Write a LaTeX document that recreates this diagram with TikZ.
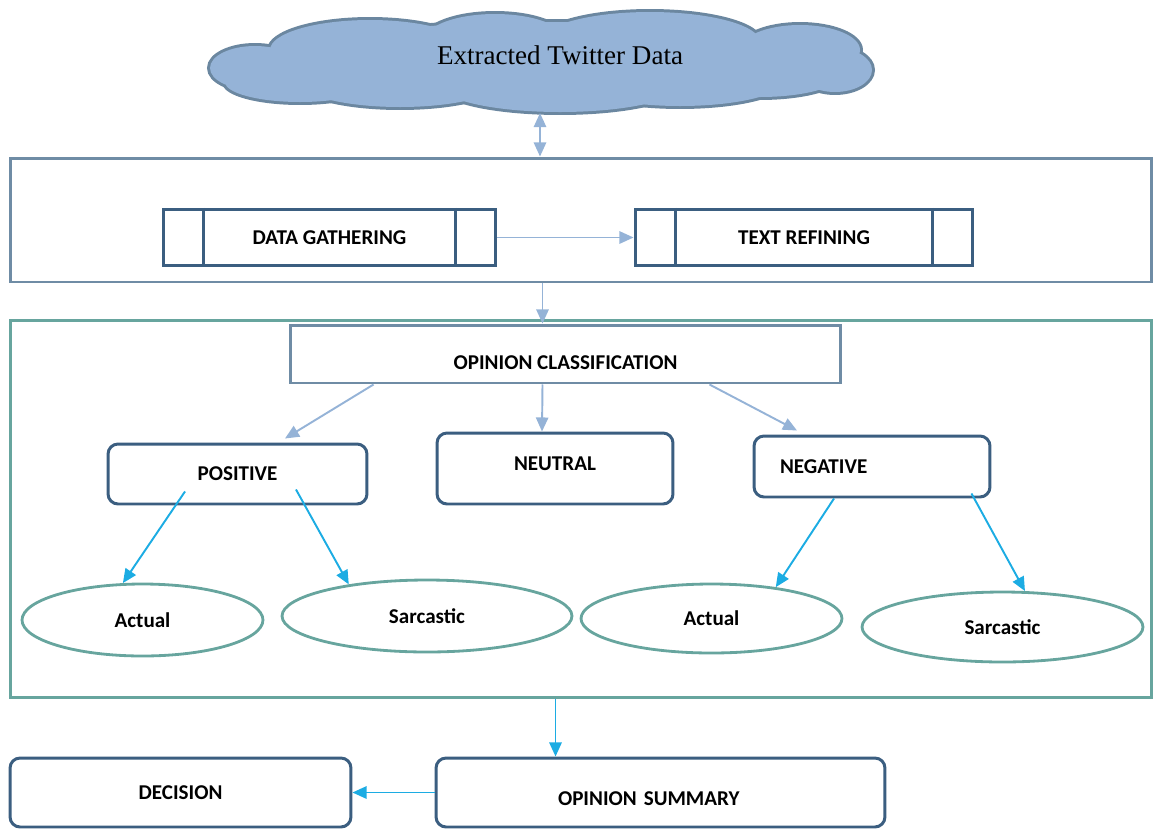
\documentclass[tikz,border=0pt]{standalone}
\usepackage{fontspec}
\setmainfont{Liberation Serif}
\setsansfont{Carlito}
\usetikzlibrary{arrows.meta,shapes.geometric}

\definecolor{cloudfill}{HTML}{95B3D7}
\definecolor{cloudline}{HTML}{6B87A0}
\definecolor{frameblue}{HTML}{6F8CA5}
\definecolor{boxblue}{HTML}{3B5E80}
\definecolor{frameteal}{HTML}{67A59E}
\definecolor{paleblue}{HTML}{95B3D7}
\definecolor{skyblue}{HTML}{1CACE3}

\begin{document}
\begin{tikzpicture}[x=0.02cm, y=-0.02cm,
    lbl/.style={font=\sffamily\bfseries\fontsize{12}{14}\selectfont},
    frame/.style={draw=#1, line width=1.7pt, inner sep=0pt},
    procbox/.style={lbl, draw=boxblue, line width=1.7pt, inner sep=0pt, minimum height=1.13cm},
    classbox/.style={lbl, draw=boxblue, line width=1.7pt, rounded corners=0.2cm, inner sep=0pt},
    leaf/.style={lbl, ellipse, draw=frameteal, line width=1.6pt, inner sep=0pt},
    palearrow/.style={paleblue, line width=1.1pt, -{Triangle[length=8pt,width=7pt]}},
    skyarrow/.style={skyblue, line width=1.1pt, -{Triangle[length=8pt,width=7pt]}}]
    \useasboundingbox (0,0) rectangle (1153,829);
    %Nube
    \def\puffs{(255,68)/45/22, (300,82)/75/20, (370,50)/100/30, (495,40)/70/26,
               (650,42)/110/30, (800,50)/60/25, (835,70)/37/22, (680,80)/105/26,
               (560,85)/120/27, (400,82)/100/25, (760,75)/80/22, (540,62)/250/40}
    \foreach \c/\rx/\ry in \puffs
        \draw[cloudline, fill=cloudfill, line width=3.4pt] \c ellipse [x radius=\rx, y radius=\ry];
    \foreach \c/\rx/\ry in \puffs
        \fill[cloudfill] \c ellipse [x radius=\rx, y radius=\ry];
    \node[font=\fontsize{15.4}{18}\selectfont] (twitter) at (560,55) {Extracted Twitter Data};
    \coordinate (cloudbase) at (540,113);
    %Recogida
    \node[frame=frameblue, minimum width=22.84cm, minimum height=2.48cm] (gatherframe) at (581,220) {};
    \node[procbox, minimum width=6.66cm] (gather) at (329.5,237.5) {DATA GATHERING};
    \node[procbox, minimum width=6.76cm] (refine) at (804,237.5) {TEXT REFINING};
    \foreach \b in {gather,refine}{
        \draw[boxblue, line width=1.7pt] ([xshift=0.84cm]\b.north west) -- ([xshift=0.84cm]\b.south west);
        \draw[boxblue, line width=1.7pt] ([xshift=-0.84cm]\b.north east) -- ([xshift=-0.84cm]\b.south east);
    }
    %Clasificacion
    \node[frame=frameteal, minimum width=22.84cm, minimum height=7.56cm] (classframe) at (581,509) {};
    \node[lbl, draw=frameblue, line width=1.7pt, minimum width=11.02cm, minimum height=1.16cm,
          text height=0.63cm, text depth=0pt] (opinion) at (565.5,354) {OPINION CLASSIFICATION};
    \node[classbox, minimum width=5.18cm, minimum height=1.2cm] (positive) at (237.5,474) {POSITIVE};
    \node[classbox, minimum width=4.72cm, minimum height=1.42cm,
          text height=0.27cm, text depth=0.2cm] (neutral) at (555,468.5) {NEUTRAL};
    \node[classbox, minimum height=1.22cm, text width=3.68cm, inner xsep=0.52cm, align=left] (negative) at (872,466.5) {NEGATIVE};
    \node[leaf, minimum width=4.82cm, minimum height=1.44cm] (posactual) at (142.5,620) {Actual};
    \node[leaf, minimum width=5.8cm, minimum height=1.44cm] (possarc) at (427,616) {Sarcastic};
    \node[leaf, minimum width=5.22cm, minimum height=1.38cm] (negactual) at (711.5,618.5) {Actual};
    \node[leaf, minimum width=5.62cm, minimum height=1.4cm] (negsarc) at (1002.5,627) {Sarcastic};
    %Resumen
    \node[classbox, minimum height=1.38cm, text width=4.1cm, inner xsep=2.44cm, align=left,
          text height=0.51cm, text depth=0pt] (summary) at (660.5,792.5) {OPINION SUMMARY};
    \node[classbox, minimum width=6.82cm, minimum height=1.38cm] (decision) at (180.5,792.5) {DECISION};
    %Flechas
    \draw[palearrow, {Triangle[length=8pt,width=7pt]}-{Triangle[length=8pt,width=7pt]}] (cloudbase) -- (cloudbase |- gatherframe.north);
    \draw[palearrow] (gather.east) -- (refine.west);
    \draw[palearrow] ([xshift=-0.46cm]opinion.north |- gatherframe.south) -- ([xshift=-0.46cm]opinion.north);
    \draw[palearrow] ([xshift=1.7cm]opinion.south west) -- ([xshift=0.95cm,yshift=0.08cm]positive.north);
    \draw[palearrow] ([xshift=-0.46cm]opinion.south) -- ([xshift=-0.26cm]neutral.north);
    \draw[palearrow] ([xshift=-2.66cm]opinion.south east) -- ([xshift=-1.5cm,yshift=0.08cm]negative.north);
    \draw[skyarrow] ([xshift=-1.05cm,yshift=0.28cm]positive.south) -- (posactual.118);
    \draw[skyarrow] ([xshift=1.17cm,yshift=0.32cm]positive.south) -- (possarc.158.6);
    \draw[skyarrow] ([xshift=-0.76cm]negative.south) -- (negactual.26.8);
    \draw[skyarrow] ([xshift=-0.4cm,yshift=0.1cm]negative.south east) -- (negsarc.58.7);
    \draw[skyarrow] ([xshift=-2.1cm]summary.north |- classframe.south) -- ([xshift=-2.1cm]summary.north);
    \draw[skyarrow] (summary.west) -- (decision.east);
\end{tikzpicture}
\end{document}
